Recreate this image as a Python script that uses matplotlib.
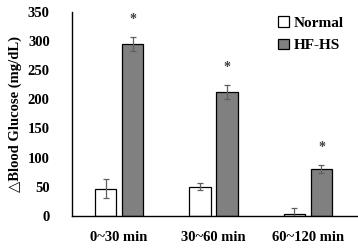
import numpy as np
import matplotlib
matplotlib.use("Agg")
import matplotlib.pyplot as plt

# data
groups = ["0~30 min", "30~60 min", "60~120 min"]
normal = [47, 50, 4]
normal_err = [17, 6, 9]
hfhs = [295, 212, 81]
hfhs_err = [12, 12, 7]
sig = ["*", "*", "*"]

plt.rcParams['font.family'] = ['Liberation Serif', 'DejaVu Serif']
plt.rcParams['font.weight'] = 'bold'

fig = plt.figure(figsize=(3.58, 2.52), dpi=100)
ax = fig.add_axes([0.201, 0.143, 0.799, 0.81])

x = np.arange(len(groups))
w = 0.225
off = 0.143

ax.bar(x - off, normal, w, color="white", edgecolor="black", linewidth=0.9,
       yerr=normal_err, error_kw=dict(ecolor="#606060", elinewidth=0.9, capsize=2.5, capthick=0.9),
       label="Normal", zorder=2)
ax.bar(x + off, hfhs, w, color="#808080", edgecolor="black", linewidth=0.9,
       yerr=hfhs_err, error_kw=dict(ecolor="#606060", elinewidth=0.9, capsize=2.5, capthick=0.9),
       label="HF-HS", zorder=2)

for i in range(len(groups)):
    ax.text(x[i] + off, hfhs[i] + hfhs_err[i] + 30, sig[i], ha="center", va="center",
            fontsize=10, color="#404040")

ax.set_ylim(0, 350)
ax.set_xlim(-0.5, 2.53)
ax.set_yticks(range(0, 351, 50))
ax.set_xticks(x)
ax.set_xticklabels(groups, fontsize=10, fontweight="bold")
ax.tick_params(axis="both", length=0, labelsize=10.5)
ax.tick_params(axis="x", pad=11)
ax.tick_params(axis="y", pad=16)
for s in ["top", "right"]:
    ax.spines[s].set_visible(False)
ax.spines["left"].set_linewidth(1.0)
ax.spines["bottom"].set_linewidth(1.0)

ax.set_ylabel("\u25b3Blood Glucose (mg/dL)", fontsize=10.5, fontweight="bold", labelpad=4,
              family=['Liberation Serif', 'DejaVu Sans'])

ax.legend(loc="upper right", bbox_to_anchor=(1.0, 1.045), frameon=False, fontsize=11,
          handlelength=0.7, handleheight=0.7, handletextpad=0.35, labelspacing=0.55)

fig.savefig("out.png", dpi=100)
